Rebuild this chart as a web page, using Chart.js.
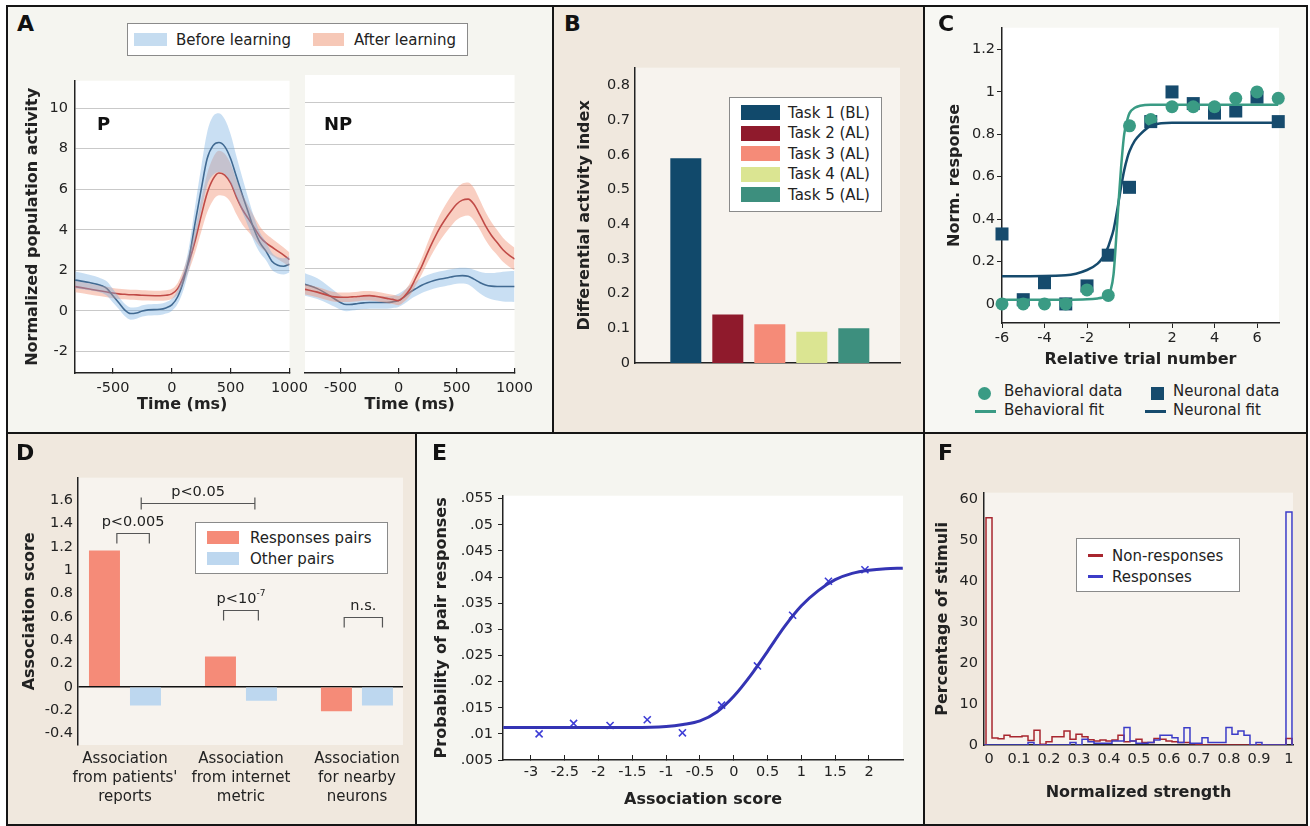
<!DOCTYPE html>
<html>
<head>
<meta charset="utf-8">
<script src="https://cdn.jsdelivr.net/npm/chart.js@4.4.1/dist/chart.umd.min.js"></script>
<style>
body { margin: 0; background: #fff; }
#fig { position: relative; width: 1310px; height: 826px; background: #fff; font-family: "DejaVu Sans", sans-serif; color: #222; overflow: hidden; }
.p, canvas, .t, .box, .sw { position: absolute; }
.t { white-space: nowrap; line-height: 1; }
.box { background: #fff; border: 1px solid #8a8a8a; box-sizing: border-box; }
</style>
</head>
<body>
<div id="fig">
  <div class="p" style="left:6px;top:5px;width:1302px;height:821px;background:#151515"></div>
  <div class="p" style="left:8px;top:7px;width:544px;height:425px;background:#f5f5f0"></div>
  <div class="p" style="left:554px;top:7px;width:369px;height:425px;background:#f0e8de"></div>
  <div class="p" style="left:925px;top:7px;width:381px;height:425px;background:#f7f7f3"></div>
  <div class="p" style="left:8px;top:434px;width:407px;height:390px;background:#f0e8de"></div>
  <div class="p" style="left:417px;top:434px;width:506px;height:390px;background:#f5f5f0"></div>
  <div class="p" style="left:925px;top:434px;width:381px;height:390px;background:#f0e8de"></div>
</div>
<script>
// ---- A: population activity (P and NP), before / after learning
const aSeries = ['Before learning', 'After learning'];
const aPanels = ['P', 'NP'];
const aTime = [-820, -700, -600, -550, -500, -450, -400, -350, -300, -250, -200, -100, -50, 0, 50, 100, 150, 200, 250, 300, 350, 400, 450, 500, 550, 600, 650, 700, 750, 800, 850, 900, 950, 1000];
const aPBefore = [1.52, 1.4, 1.25, 1.1, 0.75, 0.4, 0.05, -0.13, -0.1, 0.0, 0.05, 0.08, 0.15, 0.3, 0.7, 1.5, 2.7, 4.4, 6.0, 7.5, 8.15, 8.3, 8.1, 7.5, 6.6, 5.7, 4.85, 4.0, 3.35, 2.95, 2.45, 2.25, 2.2, 2.3];
const aPBeforeErr = [0.42, 0.38, 0.35, 0.35, 0.33, 0.3, 0.3, 0.3, 0.28, 0.28, 0.28, 0.28, 0.28, 0.3, 0.35, 0.45, 0.6, 0.85, 1.1, 1.3, 1.45, 1.45, 1.35, 1.2, 1.0, 0.85, 0.7, 0.6, 0.5, 0.45, 0.42, 0.4, 0.4, 0.4];
const aPAfter = [1.2, 1.08, 0.98, 0.93, 0.88, 0.84, 0.82, 0.8, 0.79, 0.77, 0.76, 0.75, 0.77, 0.84, 1.1, 1.7, 2.5, 3.5, 4.7, 5.8, 6.5, 6.8, 6.7, 6.3, 5.6, 5.0, 4.55, 4.1, 3.65, 3.35, 3.15, 2.95, 2.75, 2.53];
const aPAfterErr = [0.28, 0.27, 0.26, 0.26, 0.25, 0.25, 0.25, 0.25, 0.25, 0.25, 0.25, 0.25, 0.25, 0.25, 0.28, 0.35, 0.45, 0.6, 0.8, 0.95, 1.05, 1.1, 1.05, 0.95, 0.85, 0.75, 0.65, 0.55, 0.5, 0.45, 0.42, 0.4, 0.38, 0.35];
const aNPBefore = [1.25, 1.02, 0.7, 0.52, 0.35, 0.25, 0.26, 0.3, 0.33, 0.35, 0.35, 0.35, 0.38, 0.45, 0.62, 0.85, 1.02, 1.18, 1.3, 1.4, 1.47, 1.52, 1.58, 1.63, 1.65, 1.62, 1.48, 1.32, 1.2, 1.14, 1.12, 1.12, 1.12, 1.12];
const aNPBeforeErr = [0.55, 0.5, 0.42, 0.38, 0.35, 0.32, 0.3, 0.3, 0.3, 0.3, 0.3, 0.3, 0.3, 0.32, 0.33, 0.35, 0.36, 0.37, 0.38, 0.38, 0.38, 0.38, 0.38, 0.38, 0.38, 0.4, 0.45, 0.52, 0.58, 0.63, 0.68, 0.72, 0.74, 0.75];
const aNPAfter = [1.0, 0.85, 0.68, 0.62, 0.6, 0.6, 0.62, 0.64, 0.67, 0.68, 0.65, 0.55, 0.5, 0.44, 0.65, 1.0, 1.55, 2.1, 2.75, 3.35, 3.9, 4.35, 4.75, 5.1, 5.3, 5.35, 5.1, 4.6, 4.05, 3.6, 3.25, 2.9, 2.65, 2.45];
const aNPAfterErr = [0.25, 0.25, 0.24, 0.24, 0.23, 0.23, 0.23, 0.23, 0.23, 0.23, 0.23, 0.22, 0.22, 0.22, 0.25, 0.3, 0.35, 0.4, 0.48, 0.55, 0.62, 0.68, 0.72, 0.76, 0.8, 0.8, 0.78, 0.72, 0.68, 0.64, 0.6, 0.58, 0.56, 0.55];
const aTicksX = [-500, 0, 500, 1000];
const aTickLabelsX = ['-500', '0', '500', '1000'];
const aTicksY = [-2, 0, 2, 4, 6, 8, 10];
const aTickLabelsY = ['-2', '0', '2', '4', '6', '8', '10'];

// ---- B: differential activity index
const bTasks = ['Task 1 (BL)', 'Task 2 (AL)', 'Task 3 (AL)', 'Task 4 (AL)', 'Task 5 (AL)'];
const bValues = [0.59, 0.14, 0.112, 0.09, 0.10];
const bTicksY = [0, 0.1, 0.2, 0.3, 0.4, 0.5, 0.6, 0.7, 0.8];
const bTickLabelsY = ['0', '0.1', '0.2', '0.3', '0.4', '0.5', '0.6', '0.7', '0.8'];

// ---- C: learning curve
const cSeries = ['Behavioral data', 'Neuronal data', 'Behavioral fit', 'Neuronal fit'];
const cTrial = [-6, -5, -4, -3, -2, -1, 0, 1, 2, 3, 4, 5, 6, 7];
const cBehav = [0.0, 0.0, 0.0, 0.0, 0.066, 0.04, 0.84, 0.87, 0.93, 0.93, 0.93, 0.97, 1.0, 0.97];
const cNeuro = [0.33, 0.02, 0.10, 0.0, 0.085, 0.23, 0.55, 0.86, 1.0, 0.945, 0.90, 0.91, 0.975, 0.86];
const cFitX = [-6, -3, -2, -1.5, -1.25, -1, -0.9, -0.75, -0.6, -0.5, -0.4, -0.25, -0.1, 0, 0.25, 0.5, 1, 1.5, 2, 7];
const cBehavFit = [0.02, 0.02, 0.022, 0.026, 0.03, 0.04, 0.06, 0.14, 0.35, 0.5, 0.64, 0.8, 0.87, 0.9, 0.925, 0.935, 0.94, 0.94, 0.94, 0.94];
const cNeuroFit = [0.13, 0.135, 0.16, 0.19, 0.22, 0.27, 0.3, 0.35, 0.43, 0.49, 0.55, 0.63, 0.69, 0.72, 0.77, 0.8, 0.84, 0.852, 0.855, 0.855];
const cTicksX = [-6, -4, -2, 0, 2, 4, 6];
const cTickLabelsX = ['-6', '-4', '-2', '', '2', '4', '6'];
const cTicksY = [0, 0.2, 0.4, 0.6, 0.8, 1, 1.2];
const cTickLabelsY = ['0', '0.2', '0.4', '0.6', '0.8', '1', '1.2'];

// ---- D: association score
const dSeries = ['Responses pairs', 'Other pairs'];
const dGroups = [['Association', 'from patients\'', 'reports'], ['Association', 'from internet', 'metric'], ['Association', 'for nearby', 'neurons']];
const dResp = [1.17, 0.26, -0.21];
const dOther = [-0.16, -0.12, -0.16];
const dTicksY = [-0.4, -0.2, 0, 0.2, 0.4, 0.6, 0.8, 1, 1.2, 1.4, 1.6];
const dTickLabelsY = ['-0.4', '-0.2', '0', '0.2', '0.4', '0.6', '0.8', '1', '1.2', '1.4', '1.6'];
const dSigText = ['p<0.05', 'p<0.005', 'p<10', 'n.s.'];
const dSigSup = ['', '', '-7', ''];
const dSigFrom = [0.14, -0.07, 0.85, 1.89];
const dSigTo = [1.12, 0.21, 1.15, 2.22];
const dSigLevel = [1.58, 1.32, 0.655, 0.6];

// ---- E: probability of pair responses
const eScore = [-2.88, -2.37, -1.83, -1.28, -0.76, -0.18, 0.35, 0.87, 1.4, 1.94];
const eProb = [0.0100, 0.0120, 0.0116, 0.0127, 0.0102, 0.0155, 0.0230, 0.0327, 0.0392, 0.0414];
const eFitX = [-3.41, -2.5, -2, -1.5, -1, -0.75, -0.5, -0.25, 0, 0.25, 0.5, 0.75, 1, 1.25, 1.5, 1.75, 2, 2.25, 2.5];
const eFitY = [0.0112, 0.0112, 0.0112, 0.0112, 0.0114, 0.0118, 0.0125, 0.0142, 0.0172, 0.0212, 0.0258, 0.0305, 0.0345, 0.0374, 0.0395, 0.0407, 0.0413, 0.0416, 0.0417];
const eTicksX = [-3, -2.5, -2, -1.5, -1, -0.5, 0, 0.5, 1, 1.5, 2];
const eTickLabelsX = ['-3', '-2.5', '-2', '-1.5', '-1', '-0.5', '0', '0.5', '1', '1.5', '2'];
const eTicksY = [0.005, 0.01, 0.015, 0.02, 0.025, 0.03, 0.035, 0.04, 0.045, 0.05, 0.055];
const eTickLabelsY = ['.005', '.01', '.015', '.02', '.025', '.03', '.035', '.04', '.045', '.05', '.055'];

// ---- F: histograms of normalized strength
const fSeries = ['Non-responses', 'Responses'];
const fStrength = [-0.02, 0, 0.02, 0.04, 0.06, 0.08, 0.1, 0.12, 0.14, 0.16, 0.18, 0.2, 0.22, 0.24, 0.26, 0.28, 0.3, 0.32, 0.34, 0.36, 0.38, 0.4, 0.42, 0.44, 0.46, 0.48, 0.5, 0.52, 0.54, 0.56, 0.58, 0.6, 0.62, 0.64, 0.66, 0.68, 0.7, 0.72, 0.74, 0.76, 0.78, 0.8, 0.82, 0.84, 0.86, 0.88, 0.9, 0.92, 0.94, 0.96, 0.98, 1.0, 1.02];
const fNonResp = [0, 55.6, 1.7, 1.5, 2.4, 2.0, 2.0, 2.2, 1.1, 3.6, 0.2, 0.8, 2.0, 2.0, 3.4, 1.4, 2.6, 2.0, 1.3, 1.0, 1.2, 1.0, 1.2, 2.4, 0.8, 1.0, 1.4, 0.6, 0.6, 1.6, 1.4, 1.0, 0.8, 0.6, 0.6, 0.3, 0.2, 0, 0, 0, 0, 0, 0, 0, 0, 0, 0, 0, 0, 0, 0, 1.6, 0];
const fResp = [0, 0, 0, 0, 0, 0, 0, 0, 0.6, 0, 0, 0, 0, 0, 0, 0.6, 0, 1.4, 0.8, 0.4, 0.4, 0.4, 1.0, 1.0, 4.3, 1.0, 0.4, 0.4, 0.6, 1.2, 2.4, 2.4, 1.8, 0.6, 4.2, 0.4, 0.4, 1.8, 0.6, 0.6, 0.6, 4.3, 2.6, 3.4, 2.4, 0, 0.6, 0, 0, 0, 0, 57.0, 0];
const fTicksX = [0, 0.1, 0.2, 0.3, 0.4, 0.5, 0.6, 0.7, 0.8, 0.9, 1];
const fTickLabelsX = ['0', '0.1', '0.2', '0.3', '0.4', '0.5', '0.6', '0.7', '0.8', '0.9', '1'];
const fTicksY = [0, 10, 20, 30, 40, 50, 60];
const fTickLabelsY = ['0', '10', '20', '30', '40', '50', '60'];

// colours
const blueBand = 'rgba(120,175,225,0.4)', redBand = 'rgba(240,140,110,0.42)';
const navy = '#1d3d5e', darkRed = '#9e1c2c';
const bColors = ['#11496b', '#8f1a2c', '#f58b78', '#dbe592', '#3d8f7e'];
const teal = '#3a9b84', cNavy = '#164b6d';
const salmon = '#f58b78', lightBlue = '#bdd7ef';

const fig = document.getElementById('fig');
Chart.defaults.font.family = '"DejaVu Sans", sans-serif';
Chart.defaults.font.size = 14.5;
Chart.defaults.color = '#222';

Chart.register({
  id: 'plotBg',
  beforeDraw(chart, args, opts) {
    if (!opts.color) return;
    const a = chart.chartArea, ctx = chart.ctx;
    ctx.save();
    ctx.fillStyle = opts.color;
    ctx.fillRect(a.left, a.top, a.right - a.left, a.bottom - a.top);
    ctx.restore();
  }
});

function mk(cv, plot, type, datasets, scales, bg, plugins) {
  const c = document.createElement('canvas');
  c.width = cv[2]; c.height = cv[3];
  c.style.left = cv[0] + 'px'; c.style.top = cv[1] + 'px';
  fig.appendChild(c);
  scales.x.afterFit = s => { s.height = cv[1] + cv[3] - plot[3]; };
  scales.y.afterFit = s => { s.width = plot[0] - cv[0]; };
  return new Chart(c, {
    type: type,
    data: { datasets: datasets },
    options: {
      responsive: false, animation: false, events: [],
      layout: { padding: { left: 0, top: plot[1] - cv[1], right: cv[0] + cv[2] - plot[2], bottom: 0 } },
      plugins: { legend: { display: false }, tooltip: { enabled: false }, plotBg: { color: bg } },
      scales: scales
    },
    plugins: plugins || []
  });
}

function fixTicks(vals) { return s => { s.ticks = vals.map(v => ({ value: v })); }; }
function labelsOf(arr) { return (v, i) => arr[i]; }
function yTitle(text, cv, cx) {
  return { display: true, text: text, color: '#222', font: { size: 16, weight: 'bold' }, padding: { top: cx - cv[0] - 9.6, bottom: 0 } };
}
function xTitle(text, cv, cy) {
  return { display: true, text: text, color: '#222', font: { size: 16, weight: 'bold' }, padding: { top: 0, bottom: cv[1] + cv[3] - cy - 9.6 } };
}
const axisBorder = { display: true, color: '#222', width: 1.5 };
const noGrid = { display: false, drawTicks: false };
function pts(xs, ys) { return xs.map((x, i) => ({ x: x, y: ys[i] })); }

// ---------- Panel A ----------
function bandSets(mean, err, color) {
  const smooth = { pointRadius: 0, borderWidth: 0, cubicInterpolationMode: 'monotone' };
  return [
    Object.assign({ data: aTime.map((t, i) => ({ x: t, y: mean[i] - err[i] })), fill: false }, smooth),
    Object.assign({ data: aTime.map((t, i) => ({ x: t, y: mean[i] + err[i] })), fill: '-1', backgroundColor: color }, smooth)
  ];
}
function lineSet(mean, color) {
  return { data: pts(aTime, mean), borderColor: color, borderWidth: 1.6, pointRadius: 0, fill: false, cubicInterpolationMode: 'monotone' };
}
function aScales(cv, xmin, showY) {
  return {
    x: {
      type: 'linear', min: xmin, max: 1000, afterBuildTicks: fixTicks(aTicksX),
      ticks: { callback: labelsOf(aTickLabelsX), padding: 12, autoSkip: false, maxRotation: 0 },
      grid: { display: true, drawOnChartArea: false, drawTicks: true, tickLength: -5, color: '#222', lineWidth: 1.2 },
      border: axisBorder,
      title: xTitle('Time (ms)', cv, 405)
    },
    y: {
      type: 'linear', min: -3.06, max: 11.35, afterBuildTicks: fixTicks(aTicksY),
      ticks: { display: showY, callback: labelsOf(aTickLabelsY), padding: 7 },
      grid: { color: '#c9c9c9', drawTicks: false, lineWidth: 1 },
      border: { display: showY, color: '#222', width: 1.5 },
      title: showY ? yTitle('Normalized population activity', cv, 33) : { display: false }
    }
  };
}
const aCvP = [10, 65, 310, 360];
mk(aCvP, [75, 75, 296, 373], 'line',
  [].concat(bandSets(aPBefore, aPBeforeErr, blueBand), bandSets(aPAfter, aPAfterErr, redBand),
    [lineSet(aPBefore, navy), lineSet(aPAfter, darkRed)]),
  aScales(aCvP, -822, true), '#ffffff');
const aCvN = [300, 65, 245, 360];
mk(aCvN, [305, 75, 525, 373], 'line',
  [].concat(bandSets(aNPAfter, aNPAfterErr, redBand), [lineSet(aNPAfter, darkRed)],
    bandSets(aNPBefore, aNPBeforeErr, blueBand), [lineSet(aNPBefore, navy)]),
  aScales(aCvN, -806, false), '#ffffff');

// ---------- Panel B ----------
const bCv = [558, 54, 360, 366];
mk(bCv, [635, 64, 900, 363], 'bar',
  [{ data: bValues.map((v, i) => ({ x: i + 1, y: v })), backgroundColor: bColors, borderWidth: 0, categoryPercentage: 0.82, barPercentage: 0.9 }],
  {
    x: { type: 'linear', min: -0.21, max: 6.1, offset: false, afterBuildTicks: fixTicks([1, 2, 3, 4, 5]),
      ticks: { display: false }, grid: noGrid, border: axisBorder },
    y: { type: 'linear', min: 0, max: 0.851, afterBuildTicks: fixTicks(bTicksY),
      ticks: { callback: labelsOf(bTickLabelsY), padding: 5 }, grid: noGrid, border: axisBorder,
      title: yTitle('Differential activity index', bCv, 585) }
  }, '#f7f3ee');

// ---------- Panel C ----------
const cCv = [930, 17, 372, 358];
mk(cCv, [1002, 27, 1279, 323], 'scatter',
  [
    { data: pts(cFitX, cBehavFit), showLine: true, borderColor: teal, borderWidth: 2.5, pointRadius: 0, cubicInterpolationMode: 'monotone' },
    { data: pts(cFitX, cNeuroFit), showLine: true, borderColor: cNavy, borderWidth: 2.5, pointRadius: 0, cubicInterpolationMode: 'monotone' },
    { data: pts(cTrial, cBehav), pointStyle: 'circle', pointRadius: 6.5, backgroundColor: teal, borderWidth: 0, clip: false },
    { data: pts(cTrial, cNeuro), pointStyle: 'rect', pointRadius: 9.2, backgroundColor: cNavy, borderWidth: 0, clip: false }
  ],
  {
    x: { type: 'linear', min: -6, max: 7.035, afterBuildTicks: fixTicks(cTicksX),
      ticks: { callback: labelsOf(cTickLabelsX), padding: 2, autoSkip: false, maxRotation: 0 },
      grid: { display: true, drawOnChartArea: false, tickLength: 5, color: '#222' }, border: axisBorder,
      title: xTitle('Relative trial number', cCv, 360) },
    y: { type: 'linear', min: -0.09, max: 1.303, afterBuildTicks: fixTicks(cTicksY),
      ticks: { callback: labelsOf(cTickLabelsY), padding: 2 },
      grid: { display: true, drawOnChartArea: false, tickLength: 5, color: '#222' }, border: axisBorder,
      title: yTitle('Norm. response', cCv, 955) }
  }, '#ffffff');

// ---------- Panel D ----------
const sigBrackets = {
  id: 'sigBrackets',
  afterDatasetsDraw(chart) {
    const xs = chart.scales.x, ys = chart.scales.y, ctx = chart.ctx;
    ctx.save();
    ctx.strokeStyle = '#555'; ctx.lineWidth = 1.2; ctx.fillStyle = '#222';
    ctx.textBaseline = 'middle'; ctx.textAlign = 'left';
    dSigText.forEach((t, i) => {
      const x0 = xs.getPixelForValue(dSigFrom[i]), x1 = xs.getPixelForValue(dSigTo[i]);
      const y = Math.round(ys.getPixelForValue(dSigLevel[i])) + 0.5;
      ctx.beginPath();
      if (i === 0) {
        ctx.moveTo(x0, y); ctx.lineTo(x1, y);
        ctx.moveTo(x0, y - 6); ctx.lineTo(x0, y + 6);
        ctx.moveTo(x1, y - 6); ctx.lineTo(x1, y + 6);
      } else {
        ctx.moveTo(x0, y + 10); ctx.lineTo(x0, y); ctx.lineTo(x1, y); ctx.lineTo(x1, y + 10);
      }
      ctx.stroke();
      ctx.font = '14.5px "DejaVu Sans"';
      const w = ctx.measureText(t).width;
      ctx.font = '9px "DejaVu Sans"';
      const ws = dSigSup[i] ? ctx.measureText(dSigSup[i]).width : 0;
      const left = (x0 + x1) / 2 - (w + ws) / 2, ty = y - 11;
      ctx.font = '14.5px "DejaVu Sans"';
      ctx.fillText(t, left, ty);
      if (ws) { ctx.font = '9px "DejaVu Sans"'; ctx.fillText(dSigSup[i], left + w, ty - 6); }
    });
    ctx.restore();
  }
};
const dCv = [12, 464, 400, 350];
mk(dCv, [78, 474, 403, 745], 'bar',
  [
    { data: pts([0, 1, 2], dResp), backgroundColor: salmon, borderWidth: 0, categoryPercentage: 0.707, barPercentage: 0.756 },
    { data: pts([0, 1, 2], dOther), backgroundColor: lightBlue, borderWidth: 0, categoryPercentage: 0.707, barPercentage: 0.756 }
  ],
  {
    x: { type: 'linear', min: -0.405, max: 2.397, offset: false, afterBuildTicks: fixTicks([0, 1, 2]),
      ticks: { callback: labelsOf(dGroups), padding: 5, autoSkip: false, maxRotation: 0, font: { size: 15, lineHeight: 1.25 } },
      grid: noGrid, border: { display: false } },
    y: { type: 'linear', min: -0.5, max: 1.795, afterBuildTicks: fixTicks(dTicksY),
      ticks: { callback: labelsOf(dTickLabelsY), padding: 5 },
      grid: { drawTicks: false, lineWidth: 1.5, color: c => (c.tick && c.tick.value === 0 ? '#111' : 'rgba(0,0,0,0)') },
      border: axisBorder,
      title: yTitle('Association score', dCv, 30) }
  }, '#f7f3ee', [sigBrackets]);

// ---------- Panel E ----------
const eCv = [420, 482, 500, 340];
mk(eCv, [503, 492, 903, 760], 'scatter',
  [
    { data: pts(eFitX, eFitY), showLine: true, borderColor: '#3434b4', borderWidth: 3, pointRadius: 0, cubicInterpolationMode: 'monotone' },
    { data: pts(eScore, eProb), pointStyle: 'crossRot', pointRadius: 5, borderColor: '#3e3ed6', borderWidth: 1.6, clip: false }
  ],
  {
    x: { type: 'linear', min: -3.414, max: 2.503, afterBuildTicks: fixTicks(eTicksX),
      ticks: { callback: labelsOf(eTickLabelsX), padding: 8.6, autoSkip: false, maxRotation: 0 },
      grid: { display: true, drawOnChartArea: false, tickLength: -5, color: '#222' }, border: axisBorder,
      title: xTitle('Association score', eCv, 800) },
    y: { type: 'linear', min: 0.005, max: 0.05557, afterBuildTicks: fixTicks(eTicksY),
      ticks: { callback: labelsOf(eTickLabelsY), padding: 5 },
      grid: { display: true, drawOnChartArea: false, tickLength: 5, color: '#222' }, border: axisBorder,
      title: yTitle('Probability of pair responses', eCv, 442) }
  }, '#ffffff');

// ---------- Panel F ----------
const fCv = [930, 478, 373, 344];
mk(fCv, [984, 488, 1293, 745], 'line',
  [
    { data: pts(fStrength, fResp), stepped: 'middle', borderColor: '#3c3cc8', borderWidth: 1.5, pointRadius: 0, fill: false },
    { data: pts(fStrength, fNonResp), stepped: 'middle', borderColor: '#a8262f', borderWidth: 1.5, pointRadius: 0, fill: false }
  ],
  {
    x: { type: 'linear', min: -0.0167, max: 1.0134, afterBuildTicks: fixTicks(fTicksX),
      ticks: { callback: labelsOf(fTickLabelsX), padding: 6, autoSkip: false, maxRotation: 0 },
      grid: noGrid, border: axisBorder,
      title: xTitle('Normalized strength', fCv, 793) },
    y: { type: 'linear', min: 0, max: 61.7, afterBuildTicks: fixTicks(fTicksY),
      ticks: { callback: labelsOf(fTickLabelsY), padding: 6 },
      grid: noGrid, border: axisBorder,
      title: yTitle('Percentage of stimuli', fCv, 943) }
  }, '#f7f3ee');

// ---------- HTML text, legends ----------
function el(cls, x, y, w, h, bg) {
  const d = document.createElement('div');
  d.className = cls;
  d.style.left = x + 'px'; d.style.top = y + 'px';
  if (w != null) d.style.width = w + 'px';
  if (h != null) d.style.height = h + 'px';
  if (bg) d.style.background = bg;
  fig.appendChild(d);
  return d;
}
function text(s, x, yc, size, weight) {
  const d = el('t', x, yc - size * 0.5);
  d.textContent = s;
  d.style.fontSize = size + 'px';
  if (weight) d.style.fontWeight = weight;
  return d;
}
function capText(s, x, capTop, size) {
  const d = el('t', x, capTop - size * 0.117);
  d.textContent = s;
  d.style.fontSize = size + 'px';
  d.style.fontWeight = 'bold';
  d.style.color = '#111';
  return d;
}

['A', 'B', 'C'].forEach((s, i) => capText(s, [17, 564, 938][i], 16, 22));
['D', 'E', 'F'].forEach((s, i) => capText(s, [16, 432, 938][i], 445, 22));
capText(aPanels[0], 97, 117, 18);
capText(aPanels[1], 324, 117, 18);

// A legend
el('box', 127, 23, 341, 33);
el('sw', 134, 33, 33, 13, '#c5dcf0');
text(aSeries[0], 176, 40, 15);
el('sw', 313, 33, 31, 13, '#f6c8b7');
text(aSeries[1], 354, 40, 15);

// B legend
el('box', 729, 97, 153, 115);
bTasks.forEach((s, i) => {
  const top = 105 + i * 20.6;
  el('sw', 741, top, 39, 15, bColors[i]);
  text(s, 788, top + 8, 15);
});

// C legend
const circ = el('sw', 977.5, 386.5, 13, 13, teal);
circ.style.borderRadius = '50%';
el('sw', 1150.5, 386.5, 13, 13, cNavy);
el('sw', 975, 410, 21, 3, teal);
el('sw', 1145, 410, 21, 3, cNavy);
text(cSeries[0], 1004, 391, 15);
text(cSeries[1], 1173, 391, 15);
text(cSeries[2], 1004, 410, 15);
text(cSeries[3], 1173, 410, 15);

// D legend
el('box', 195, 522, 193, 52);
el('sw', 207, 531, 32, 13, salmon);
el('sw', 207, 552, 32, 13, lightBlue);
text(dSeries[0], 250, 538, 15);
text(dSeries[1], 250, 559, 15);

// F legend
el('box', 1076, 538, 164, 54);
el('sw', 1088, 554, 15, 3, '#a8262f');
el('sw', 1088, 575, 15, 3, '#3c3cc8');
text(fSeries[0], 1112, 556, 15);
text(fSeries[1], 1112, 577, 15);
</script>
</body>
</html>
